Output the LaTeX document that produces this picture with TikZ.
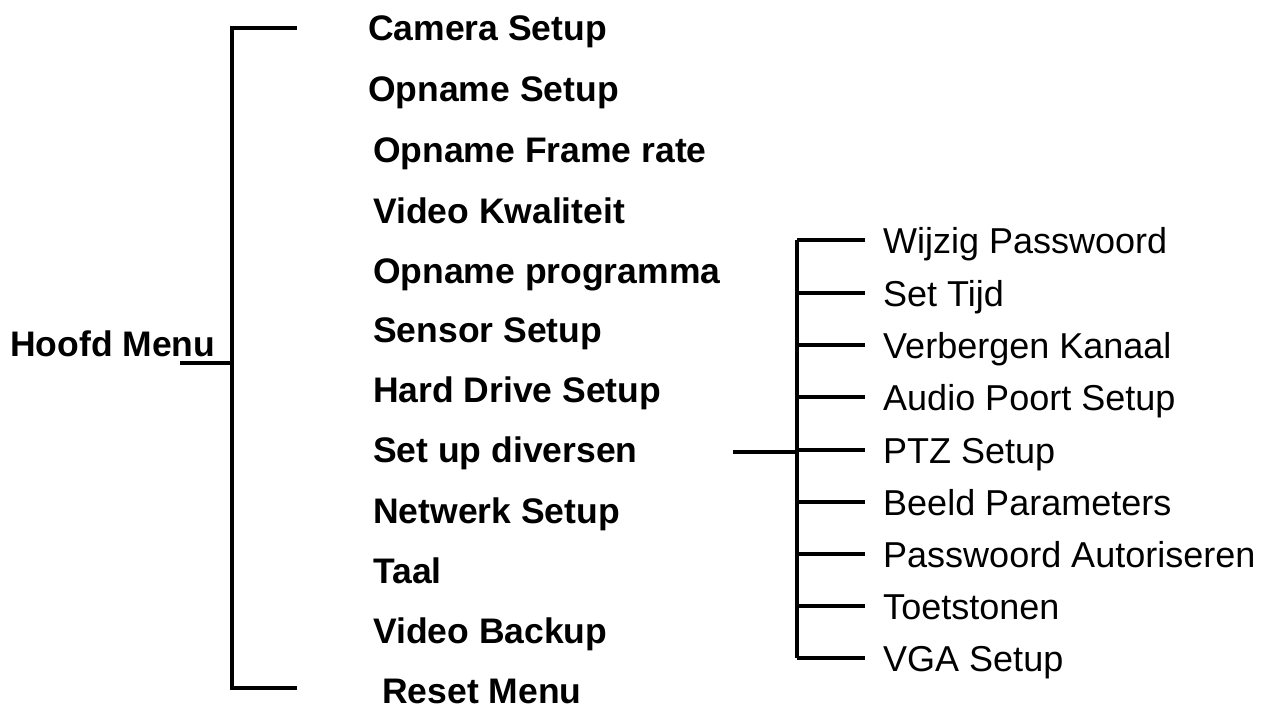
\documentclass[tikz,border=0pt]{standalone}
\usepackage{fontspec}
\setmainfont{Liberation Sans}
\begin{document}
\begin{tikzpicture}[x=1pt,y=-1pt,
  ln/.style={line width=3.5pt},
  mitem/.style={anchor=base west,inner sep=0pt,font=\fontsize{35.5}{38}\selectfont\bfseries},
  sitem/.style={anchor=base west,inner sep=0pt,font=\fontsize{36}{38}\selectfont}]
\useasboundingbox (0,0) rectangle (1265,714);
\node[mitem] (hm) at (10,356) {Hoofd Menu};
\coordinate (hl) at (180,363);
\coordinate (hr) at (232,363);
\coordinate (bt) at (232,28);
\coordinate (bb) at (232,688);
\coordinate (tt) at (297,28);
\coordinate (tb) at (297,688);
\draw[ln] (tt) -- (bt) -- (bb) -- (tb);
\draw[ln] (hl) -- (hr);
\foreach \t/\x/\y [count=\i] in {Camera Setup/368/28, Opname Setup/368/89, Opname Frame rate/373/150, Video Kwaliteit/373/210, Opname programma/373/270, Sensor Setup/373/329, Hard Drive Setup/373/389, Set up diversen/373/449, Netwerk Setup/373/510, Taal/373/570, Video Backup/373/630, Reset Menu/382/690}
  \node[mitem] (m\i) at (\x,\y+13) {\t};
\coordinate (sl) at (733,452);
\coordinate (st) at (797,240);
\coordinate (sb) at (797,658);
\draw[ln] (sl) -- (797,452);
\draw[ln] (st) -- (sb);
\foreach \t/\y [count=\i] in {Wijzig Passwoord/240, Set Tijd/293, Verbergen Kanaal/345, Audio Poort Setup/397, PTZ Setup/450, Beeld Parameters/502, Passwoord Autoriseren/554, Toetstonen/606, VGA Setup/658}{
  \node[sitem] (s\i) at (883,\y+13) {\t};
  \coordinate (c\i) at (797,\y);
  \draw[ln] (c\i) -- (865,\y);
}
\end{tikzpicture}
\end{document}
